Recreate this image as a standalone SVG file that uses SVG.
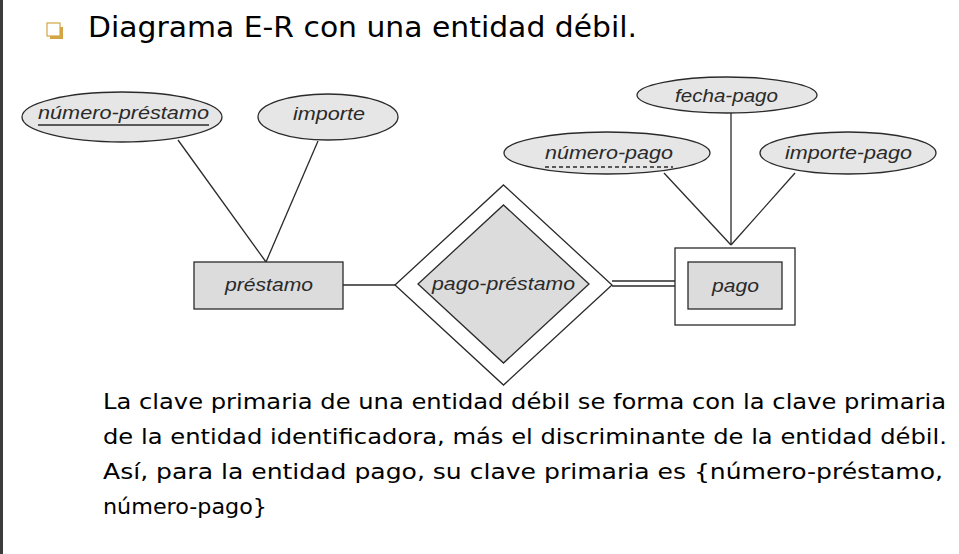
<svg xmlns="http://www.w3.org/2000/svg" width="959" height="554" viewBox="0 0 959 554">
<style>
.attr{fill:#e6e6e6;stroke:#2a2a2a;stroke-width:1.3}
.ent{fill:#dcdcdc;stroke:#2a2a2a;stroke-width:1.3}
.frame{fill:#fff;stroke:#2a2a2a;stroke-width:1.3}
.lbl{font-family:"Liberation Sans",Arial,sans-serif;font-style:italic;font-size:19px;fill:#2a2a2a;text-anchor:start}
.ln{stroke:#2a2a2a;stroke-width:1.3;fill:none}
.body{font-family:"DejaVu Sans","Liberation Sans",sans-serif;font-size:21px;fill:#000}
</style>
<rect x="0" y="0" width="959" height="554" fill="#fff"/>
<rect x="0" y="0" width="3" height="554" fill="#3c3c3c"/>
<g id="title">
<rect x="50" y="27" width="13" height="12" fill="#d4a544"/>
<rect x="47" y="23" width="13" height="13" fill="#fff" stroke="#d4a544" stroke-width="1.2"/>
<text x="88" y="37" font-family="'DejaVu Sans','Liberation Sans',sans-serif" font-size="28" fill="#000" textLength="549" lengthAdjust="spacingAndGlyphs">Diagrama E-R con una entidad débil.</text>
</g>
<g id="connectors">
<line class="ln" x1="178" y1="140" x2="266" y2="262"/>
<line class="ln" x1="318" y1="141" x2="266" y2="262"/>
<line class="ln" x1="343" y1="285" x2="395" y2="285"/>
<line class="ln" x1="612" y1="281" x2="675" y2="281"/>
<line class="ln" x1="612" y1="286" x2="675" y2="286"/>
<line class="ln" x1="731" y1="113" x2="731" y2="245"/>
<line class="ln" x1="664" y1="173" x2="731" y2="245"/>
<line class="ln" x1="795" y1="173" x2="731" y2="245"/>
</g>
<g id="numero-prestamo">
<ellipse class="attr" cx="122" cy="117" rx="100" ry="25"/>
<text class="lbl" x="38" y="119" textLength="171" lengthAdjust="spacingAndGlyphs">número-préstamo</text>
<line class="ln" x1="38" y1="125" x2="209" y2="125"/>
</g>
<g id="importe">
<ellipse class="attr" cx="328" cy="117" rx="70" ry="23"/>
<text class="lbl" x="293" y="120" textLength="72" lengthAdjust="spacingAndGlyphs">importe</text>
</g>
<g id="fecha-pago">
<ellipse class="attr" cx="727" cy="95" rx="90" ry="18"/>
<text class="lbl" x="675" y="102" textLength="103" lengthAdjust="spacingAndGlyphs">fecha-pago</text>
</g>
<g id="numero-pago">
<ellipse class="attr" cx="607" cy="153" rx="103" ry="21"/>
<text class="lbl" x="545" y="159" textLength="128" lengthAdjust="spacingAndGlyphs">número-pago</text>
<line class="ln" x1="545" y1="167" x2="673" y2="167" stroke-dasharray="4,3"/>
</g>
<g id="importe-pago">
<ellipse class="attr" cx="848" cy="153" rx="88" ry="21"/>
<text class="lbl" x="785" y="159" textLength="127" lengthAdjust="spacingAndGlyphs">importe-pago</text>
</g>
<g id="prestamo">
<rect class="ent" x="194" y="262" width="149" height="47"/>
<text class="lbl" x="225" y="291" textLength="88" lengthAdjust="spacingAndGlyphs">préstamo</text>
</g>
<g id="pago-prestamo">
<polygon class="frame" points="503.5,185 612,285 503.5,385 395,285"/>
<polygon class="ent" points="503.5,205 589,284 503.5,363 418,284"/>
<text class="lbl" x="432" y="290" textLength="143" lengthAdjust="spacingAndGlyphs">pago-préstamo</text>
</g>
<g id="pago">
<rect class="frame" x="675" y="248" width="120" height="77"/>
<rect class="ent" x="688" y="262" width="94" height="47"/>
<text class="lbl" x="712" y="292" textLength="47" lengthAdjust="spacingAndGlyphs">pago</text>
</g>
<g id="text">
<text class="body" x="103" y="409" textLength="843" lengthAdjust="spacingAndGlyphs">La clave primaria de una entidad débil se forma con la clave primaria</text>
<text class="body" x="103" y="444" textLength="844" lengthAdjust="spacingAndGlyphs">de la entidad identificadora, más el discriminante de la entidad débil.</text>
<text class="body" x="103" y="479" textLength="840" lengthAdjust="spacingAndGlyphs">Así, para la entidad pago, su clave primaria es {número-préstamo,</text>
<text class="body" x="103" y="514" textLength="164" lengthAdjust="spacingAndGlyphs">número-pago}</text>
</g>
</svg>
